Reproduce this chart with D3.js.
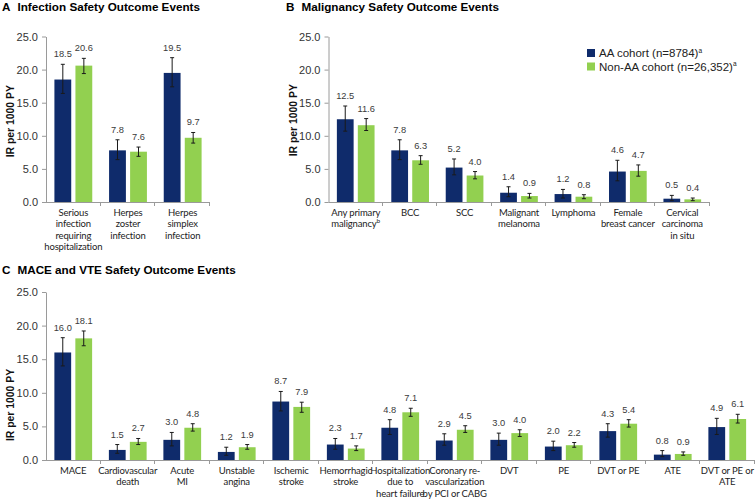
<!DOCTYPE html>
<html>
<head>
<meta charset="utf-8">
<script src="https://cdn.jsdelivr.net/npm/d3@7"></script>
<style>
  html, body { margin: 0; padding: 0; background: #fff; }
  svg { display: block; }
</style>
</head>
<body>
<svg id="chart" width="755" height="499"></svg>
<script>
// ---------------- DATA ----------------
const seriesNames = ["AA cohort (n=8784)", "Non-AA cohort (n=26,352)"];
const yTickValues = [0, 5, 10, 15, 20, 25];

// Panel A: Infection
const infectionCats = ["Serious\ninfection\nrequiring\nhospitalization", "Herpes\nzoster\ninfection", "Herpes\nsimplex\ninfection"];
const infectionAA = [18.5, 7.8, 19.5];
const infectionAALow = [16.4, 6.4, 17.4];
const infectionAAHigh = [20.8, 9.4, 21.8];
const infectionNonAA = [20.6, 7.6, 9.7];
const infectionNonAALow = [19.4, 6.9, 8.9];
const infectionNonAAHigh = [21.7, 8.3, 10.5];

// Panel B: Malignancy
const malignancyCats = ["Any primary\nmalignancy^b", "BCC", "SCC", "Malignant\nmelanoma", "Lymphoma", "Female\nbreast cancer", "Cervical\ncarcinoma\nin situ"];
const malignancyAA = [12.5, 7.8, 5.2, 1.4, 1.2, 4.6, 0.5];
const malignancyAALow = [10.7, 6.4, 4.1, 0.8, 0.6, 3.2, 0.2];
const malignancyAAHigh = [14.5, 9.4, 6.5, 2.3, 1.9, 6.3, 1.0];
const malignancyNonAA = [11.6, 6.3, 4.0, 0.9, 0.8, 4.7, 0.4];
const malignancyNonAALow = [10.8, 5.7, 3.5, 0.6, 0.5, 3.9, 0.2];
const malignancyNonAAHigh = [12.6, 7.0, 4.6, 1.3, 1.1, 5.6, 0.6];

// Panel C: MACE and VTE
const maceCats = ["MACE", "Cardiovascular\ndeath", "Acute\nMI", "Unstable\nangina", "Ischemic\nstroke", "Hemorrhagic\nstroke", "Hospitalization\ndue to\nheart failure", "Coronary re-\nvascularization\nby PCI or CABG", "DVT", "PE", "DVT or PE", "ATE", "DVT or PE or\nATE"];
const maceAA = [16.0, 1.5, 3.0, 1.2, 8.7, 2.3, 4.8, 2.9, 3.0, 2.0, 4.3, 0.8, 4.9];
const maceAALow = [14.0, 1.0, 2.1, 0.7, 7.3, 1.6, 3.8, 2.2, 2.2, 1.4, 3.4, 0.5, 3.8];
const maceAAHigh = [18.2, 2.3, 4.1, 1.9, 10.2, 3.2, 6.0, 3.9, 4.0, 2.8, 5.4, 1.4, 6.2];
const maceNonAA = [18.1, 2.7, 4.8, 1.9, 7.9, 1.7, 7.1, 4.5, 4.0, 2.2, 5.4, 0.9, 6.1];
const maceNonAALow = [17.0, 2.3, 4.3, 1.6, 7.1, 1.4, 6.5, 4.1, 3.5, 1.9, 4.9, 0.7, 5.5];
const maceNonAAHigh = [19.2, 3.2, 5.4, 2.3, 8.6, 2.1, 7.7, 5.1, 4.5, 2.6, 6.0, 1.2, 6.8];

// ---------------- STYLE / LAYOUT ----------------
const COLORS = ["#0f2b6b", "#92d050"];
const AXIS_COLOR = "#9a9a9a";
const NUM_FONT = "'Liberation Sans', Arial, sans-serif";
const CAT_FONT = "Lato, 'Open Sans', sans-serif";

const svg = d3.select("#chart");
svg.append("rect").attr("width", 755).attr("height", 499).attr("fill", "#fff");

function build(cats, aa, aaLo, aaHi, na, naLo, naHi) {
  return cats.map((c, i) => ({
    cat: c,
    vals: [
      { s: 0, v: aa[i], lo: aaLo[i], hi: aaHi[i] },
      { s: 1, v: na[i], lo: naLo[i], hi: naHi[i] }
    ]
  }));
}

const panels = [
  { letter: "A", title: "Infection Safety Outcome Events", titleX: 2, titleY: 10.5,
    left: 46, right: 210, top: 36.5, bottom: 202, ylabX: 10, ylabShift: 2,
    data: build(infectionCats, infectionAA, infectionAALow, infectionAAHigh, infectionNonAA, infectionNonAALow, infectionNonAAHigh) },
  { letter: "B", title: "Malignancy Safety Outcome Events", titleX: 286, titleY: 10.5,
    left: 328.5, right: 709.5, top: 36.5, bottom: 202, ylabX: 293, ylabShift: 1,
    data: build(malignancyCats, malignancyAA, malignancyAALow, malignancyAAHigh, malignancyNonAA, malignancyNonAALow, malignancyNonAAHigh) },
  { letter: "C", title: "MACE and VTE Safety Outcome Events", titleX: 2, titleY: 273.5,
    left: 46, right: 754.5, top: 292, bottom: 460, ylabX: 10, ylabShift: 29,
    data: build(maceCats, maceAA, maceAALow, maceAAHigh, maceNonAA, maceNonAALow, maceNonAAHigh) }
];

function drawCatLabel(g, cx, y0, str, lineH) {
  str.split("\n").forEach((ln, i) => {
    const t = g.append("text").attr("x", cx).attr("y", y0 + i * lineH)
      .attr("text-anchor", "middle").attr("font-family", CAT_FONT).attr("font-size", "9.5px")
      .attr("letter-spacing", "-0.15px").attr("fill", "#222");
    const m = ln.match(/^(.*)\^(\w)$/);
    if (m) {
      t.append("tspan").text(m[1]);
      t.append("tspan").attr("font-size", "6.5px").attr("dy", -4).text(m[2]);
    } else {
      t.text(ln);
    }
  });
}

panels.forEach(p => {
  const g = svg.append("g");
  const y = d3.scaleLinear().domain([0, 25]).range([p.bottom, p.top]);
  const x0 = d3.scaleBand().domain(p.data.map(d => d.cat)).range([p.left, p.right]).paddingInner(0).paddingOuter(0);
  const x1 = d3.scaleBand().domain([0, 1]).range([0, x0.bandwidth()]).paddingInner(0.2).paddingOuter(0.4);

  // title
  const tt = g.append("text").attr("x", p.titleX).attr("y", p.titleY)
    .attr("font-family", NUM_FONT).attr("font-weight", "bold").attr("font-size", "11.7px").attr("fill", "#000");
  tt.append("tspan").text(p.letter);
  tt.append("tspan").attr("dx", 7).text(p.title);

  // y axis
  const yAxis = d3.axisLeft(y).tickValues(yTickValues).tickFormat(d3.format(".1f")).tickSize(4).tickPadding(4).tickSizeOuter(0);
  const ya = g.append("g").attr("transform", `translate(${p.left},0)`).call(yAxis);
  ya.select(".domain").attr("stroke", AXIS_COLOR);
  ya.selectAll(".tick line").attr("stroke", AXIS_COLOR);
  ya.selectAll(".tick text").attr("font-family", NUM_FONT).attr("font-size", "11px").attr("fill", "#333");

  // y label
  const yc = (p.top + p.bottom) / 2 + p.ylabShift;
  g.append("text").attr("transform", `translate(${p.ylabX + 4},${yc}) rotate(-90)`)
    .attr("text-anchor", "middle").attr("font-family", NUM_FONT).attr("font-weight", "bold")
    .attr("font-size", "10.4px").attr("fill", "#111").text("IR per 1000 PY");

  // x axis line and boundary ticks
  g.append("line").attr("x1", p.left).attr("x2", p.right).attr("y1", p.bottom + 0.5).attr("y2", p.bottom + 0.5)
    .attr("stroke", AXIS_COLOR);
  g.selectAll(".xtick").data(p.data).join("line")
    .attr("x1", d => Math.round(x0(d.cat) + x0.bandwidth()) - 0.5)
    .attr("x2", d => Math.round(x0(d.cat) + x0.bandwidth()) - 0.5)
    .attr("y1", p.bottom).attr("y2", p.bottom + 4).attr("stroke", AXIS_COLOR);

  // bars
  const grp = g.selectAll(".grp").data(p.data).join("g").attr("transform", d => `translate(${x0(d.cat)},0)`);
  grp.selectAll("rect").data(d => d.vals).join("rect")
    .attr("x", d => x1(d.s)).attr("width", x1.bandwidth())
    .attr("y", d => y(d.v)).attr("height", d => y(0) - y(d.v))
    .attr("fill", d => COLORS[d.s]);

  // error bars
  const eb = grp.selectAll(".eb").data(d => d.vals).join("g");
  eb.append("line")
    .attr("x1", d => x1(d.s) + x1.bandwidth() / 2).attr("x2", d => x1(d.s) + x1.bandwidth() / 2)
    .attr("y1", d => y(d.lo)).attr("y2", d => y(d.hi)).attr("stroke", "#1a1a1a").attr("stroke-width", 1);
  ["lo", "hi"].forEach(k => {
    eb.append("line")
      .attr("x1", d => x1(d.s) + x1.bandwidth() / 2 - 2).attr("x2", d => x1(d.s) + x1.bandwidth() / 2 + 2)
      .attr("y1", d => y(d[k])).attr("y2", d => y(d[k])).attr("stroke", "#1a1a1a").attr("stroke-width", 1);
  });

  // value labels
  grp.selectAll(".vl").data(d => d.vals).join("text")
    .attr("x", d => x1(d.s) + x1.bandwidth() / 2)
    .attr("y", d => y(d.hi) - 7)
    .attr("text-anchor", "middle").attr("font-family", NUM_FONT).attr("font-size", "9.3px").attr("fill", "#3a3a3a")
    .text(d => d3.format(".1f")(d.v));

  // category labels
  p.data.forEach(d => drawCatLabel(g, x0(d.cat) + x0.bandwidth() / 2, p.bottom + 14, d.cat, 11.4));
});

// legend
const legend = svg.append("g");
seriesNames.forEach((name, i) => {
  const ly = 49 + i * 13.5;
  legend.append("rect").attr("x", 587).attr("y", ly).attr("width", 8).attr("height", 8).attr("fill", COLORS[i]);
  const t = legend.append("text").attr("x", 599).attr("y", ly + 8.3)
    .attr("font-family", NUM_FONT).attr("font-size", "11.5px").attr("fill", "#222");
  t.append("tspan").text(name);
  t.append("tspan").attr("font-size", "6.5px").attr("dy", -4.5).text("a");
});
</script>
</body>
</html>
